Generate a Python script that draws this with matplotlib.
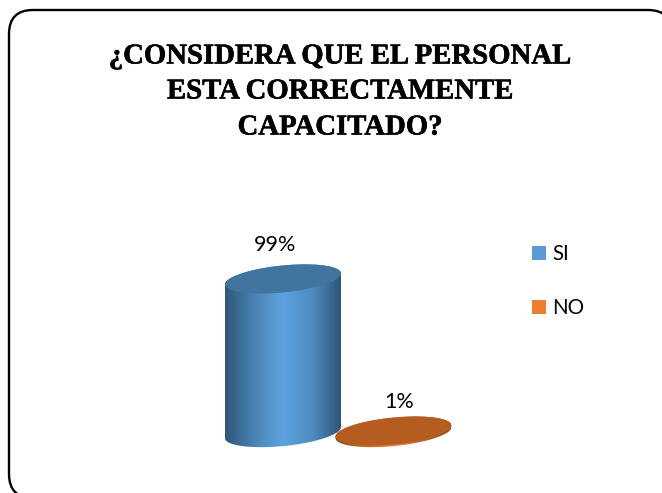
import numpy as np
import matplotlib
matplotlib.use("Agg")
import matplotlib.pyplot as plt
import matplotlib.patheffects as pe
from matplotlib.colors import LinearSegmentedColormap
from matplotlib.patches import FancyBboxPatch, PathPatch, Polygon, Rectangle
from matplotlib.path import Path

W, H = 662, 493

title_lines = ["¿CONSIDERA QUE EL PERSONAL", "ESTA CORRECTAMENTE", "CAPACITADO?"]
categories = ["SI", "NO"]
values = [99, 1]
labels = ["99%", "1%"]

side_colors = [["#2f5678", "#4a83b5", "#5ea3e0", "#4f8cc2", "#2f5678"],
               ["#8a4a1a", "#c46a25", "#ed7d31", "#c46a25", "#8a4a1a"]]
top_colors = ["#41749f", "#b55d20"]
legend_colors = ["#5b9bd5", "#ed7d31"]

fig = plt.figure(figsize=(W / 100, H / 100), dpi=100)

# page frame, pixel coords (runs past the right and bottom edges)
bg = fig.add_axes([0, 0, 1, 1])
bg.set_xlim(0, W)
bg.set_ylim(H, 0)
bg.axis("off")
r = 24
bg.add_patch(FancyBboxPatch((9 + r, 10 + r), 663 - 2 * r, 488 - 2 * r,
                            boxstyle=f"round,pad={r},rounding_size={r}",
                            fc="white", ec="black", lw=1.7))
title_y = [56, 91, 127]
for y, line in zip(title_y, title_lines):
    bg.text(340, y, line, ha="center", va="center", fontsize=20.7,
            fontweight="bold", family="Liberation Serif", color="black",
            path_effects=[pe.withStroke(linewidth=0.4, foreground="black")])

# chart axes: x = category, y = percent
x0, x1 = 283.0, 393.5
y0, y100 = 432.6, 277.4
ax = fig.add_axes([0, 0, 1, 1])
ax.patch.set_alpha(0)
ax.axis("off")

half_w = 58 / (x1 - x0)
half_h = 13.5 / (y0 - y100) * 100
tilt = 5.5 / (y0 - y100) * 100
t = np.linspace(0, 2 * np.pi, 181)


def ellipse(cx, cy):
    return np.column_stack([cx + half_w * np.cos(t),
                            cy + half_h * np.sin(t) + tilt * np.cos(t)])


for i, v in enumerate(values):
    top = ellipse(i, v)
    bottom = ellipse(i, 0)
    # side: lower half of the bottom ellipse joined to the top one
    low = bottom[(t >= np.pi)]
    up = top[(t <= np.pi)]
    body = np.vstack([up, low])
    cmap = LinearSegmentedColormap.from_list("side", side_colors[i])
    clip = Polygon(body, closed=True, transform=ax.transData, fc="none", ec="none")
    ax.add_patch(clip)
    im = ax.imshow(np.linspace(0, 1, 200).reshape(1, -1), cmap=cmap, aspect="auto",
                   extent=[i - half_w, i + half_w, -half_h - tilt, v + half_h + tilt],
                   zorder=2 + i)
    im.set_clip_path(clip)
    ax.add_patch(PathPatch(Path(top, closed=False), fc=top_colors[i], ec="none", zorder=2.5 + i))

# value labels sit a bit off the bar centres
label_dx = [-8, 6]
label_dy = [34, 29]
for i, v in enumerate(values):
    ax.annotate(labels[i], (i, v), xytext=(label_dx[i] * 0.72, label_dy[i] * 0.72),
                textcoords="offset points", ha="center", va="center",
                fontsize=15.5, family="Lato", color="black", zorder=5)

ax.set_xlim((0 - x0) / (x1 - x0), (W - x0) / (x1 - x0))
ax.set_ylim((y0 - H) / (y0 - y100) * 100, y0 / (y0 - y100) * 100)

# legend
for i, name in enumerate(categories):
    y = 253 + i * 54
    bg.add_patch(Rectangle((532, y - 7), 14, 14, fc=legend_colors[i], ec="none"))
    bg.text(552, y + 1, name, ha="left", va="center", fontsize=14.8, family="Lato", color="black")

fig.savefig("out.png", dpi=100)
